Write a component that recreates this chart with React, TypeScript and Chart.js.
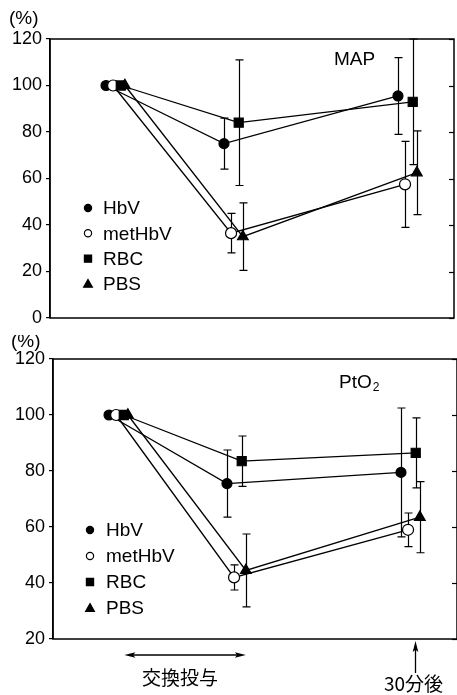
import React, { useEffect, useRef } from 'react';
import { Chart, registerables } from 'chart.js';

Chart.register(...registerables);

// ---------------- data ----------------
const seriesNames = ['HbV', 'metHbV', 'RBC', 'PBS'];
const timePoints = [0, 1, 2.475];

const yTicksMAP = [0, 20, 40, 60, 80, 100, 120];
const yTicksPtO2 = [20, 40, 60, 80, 100, 120];

// MAP (%)
const mapHbV = [100, 75, 95.5];
const mapHbVSD = [0, 11, 16.5];
const mapMetHbV = [100, 36.5, 57.5];
const mapMetHbVSD = [0, 8.5, 18.5];
const mapRBC = [100, 84, 93];
const mapRBCSD = [0, 27, 27];
const mapPBS = [100, 35, 62.5];
const mapPBSSD = [0, 14.5, 18];

// PtO2 (%)
const ptoHbV = [100, 75.5, 79.5];
const ptoHbVSD = [0, 12, 23];
const ptoMetHbV = [100, 42, 59];
const ptoMetHbVSD = [0, 4.5, 6];
const ptoRBC = [100, 83.5, 86.5];
const ptoRBCSD = [0, 9, 12.5];
const ptoPBS = [100, 44.5, 63.5];
const ptoPBSSD = [0, 13, 12.7];

// ---------------- styles ----------------
const FONT = '"Liberation Sans", Arial, Helvetica, sans-serif';
const CJK = '"Noto Sans CJK JP", "Noto Sans CJK SC", sans-serif';
const X_MIN = -0.475;
const X_MAX = 2.95;
// small horizontal jitter per series so markers do not fully overlap
const seriesJitter = [0, 0.06, 0.125, 0.16];
const markerStyles = [
  { pointStyle: 'circle', radius: 5, bg: '#000', legendR: 3.6 },
  { pointStyle: 'circle', radius: 5.5, bg: '#fff', legendR: 3.6 },
  { pointStyle: 'rect', radius: 6.4, bg: '#000', legendR: 3.6 },
  { pointStyle: 'triangle', radius: 6.2, bg: '#000', legendR: 4.4 },
];
const drawOrder = [4, 3, 1, 2];

function buildDatasets(values: number[][], errs: number[][]) {
  return seriesNames.map((name, s) => ({
    label: name,
    data: values[s].map((v, i) => ({ x: timePoints[i] + seriesJitter[s], y: v })),
    errors: errs[s],
    borderColor: '#000',
    borderWidth: 1.3,
    pointStyle: markerStyles[s].pointStyle,
    pointRadius: markerStyles[s].radius,
    pointBackgroundColor: markerStyles[s].bg,
    pointBorderColor: '#000',
    pointBorderWidth: 1.2,
    showLine: true,
    fill: false,
    tension: 0,
    clip: false,
    order: drawOrder[s],
  }));
}

function drawMarker(ctx: CanvasRenderingContext2D, s: number, x: number, y: number, r: number) {
  ctx.save();
  ctx.strokeStyle = '#000';
  ctx.lineWidth = 1.2;
  ctx.fillStyle = markerStyles[s].bg;
  ctx.beginPath();
  const st = markerStyles[s].pointStyle;
  if (st === 'circle') {
    ctx.arc(x, y, r, 0, Math.PI * 2);
  } else if (st === 'rect') {
    ctx.rect(x - r, y - r, 2 * r, 2 * r);
  } else {
    ctx.moveTo(x, y - r);
    ctx.lineTo(x + r, y + r * 0.75);
    ctx.lineTo(x - r, y + r * 0.75);
    ctx.closePath();
  }
  ctx.fill();
  ctx.stroke();
  ctx.restore();
}

function arrowHead(ctx: CanvasRenderingContext2D, x: number, y: number, dx: number, dy: number) {
  const len = 11;
  const hw = 2.8;
  const px = -dy, py = dx;
  ctx.beginPath();
  ctx.moveTo(x, y);
  ctx.lineTo(x - dx * len + px * hw, y - dy * len + py * hw);
  ctx.lineTo(x - dx * len * 0.8, y - dy * len * 0.8);
  ctx.lineTo(x - dx * len - px * hw, y - dy * len - py * hw);
  ctx.closePath();
  ctx.fill();
}

const decorPlugin = {
  id: 'decor',
  beforeDatasetsDraw(chart: any) {
    const ctx = chart.ctx as CanvasRenderingContext2D;
    const yS = chart.scales.y;
    ctx.save();
    ctx.strokeStyle = '#000';
    ctx.lineWidth = 1.2;
    chart.data.datasets.forEach((ds: any, di: number) => {
      const meta = chart.getDatasetMeta(di);
      const errs: number[] = ds.errors || [];
      meta.data.forEach((pt: any, i: number) => {
        const e = errs[i];
        if (!e) return;
        const v = ds.data[i].y;
        const x = Math.round(pt.x) + 0.5;
        const y1 = yS.getPixelForValue(v + e);
        const y2 = yS.getPixelForValue(v - e);
        ctx.beginPath();
        ctx.moveTo(x, y1);
        ctx.lineTo(x, y2);
        ctx.moveTo(x - 4, y1);
        ctx.lineTo(x + 4, y1);
        ctx.moveTo(x - 4, y2);
        ctx.lineTo(x + 4, y2);
        ctx.stroke();
      });
    });
    ctx.restore();
  },
  afterDraw(chart: any, _args: any, opts: any) {
    const ctx = chart.ctx as CanvasRenderingContext2D;
    const a = chart.chartArea;
    const yS = chart.scales.y;
    const xS = chart.scales.x;
    ctx.save();
    // frame
    ctx.strokeStyle = '#000';
    ctx.lineWidth = 1.5;
    ctx.strokeRect(a.left, a.top, a.right - a.left, a.bottom - a.top);
    // inward ticks on right
    ctx.lineWidth = 1.2;
    yS.ticks.forEach((t: any) => {
      const y = Math.round(yS.getPixelForValue(t.value)) + 0.5;
      ctx.beginPath();
      ctx.moveTo(a.right, y);
      ctx.lineTo(a.right - 5, y);
      ctx.stroke();
    });
    ctx.fillStyle = '#000';
    ctx.textBaseline = 'middle';
    // unit
    ctx.font = `19px ${FONT}`;
    ctx.textAlign = 'left';
    ctx.fillText('(%)', opts.unitX, opts.unitY);
    // title
    ctx.font = `19px ${FONT}`;
    ctx.fillText(opts.title, opts.titleX, opts.titleY);
    if (opts.titleSub) {
      const w = ctx.measureText(opts.title).width;
      ctx.font = `12px ${FONT}`;
      ctx.fillText(opts.titleSub, opts.titleX + w + 1, opts.titleY + 5);
    }
    // legend
    ctx.font = `19px ${FONT}`;
    seriesNames.forEach((name, s) => {
      const y = opts.legendY + s * opts.legendDy;
      drawMarker(ctx, s, opts.legendX, y, markerStyles[s].legendR);
      ctx.fillStyle = '#000';
      ctx.fillText(name, opts.legendTextX, y + 1);
    });
    // footer annotations
    if (opts.footer) {
      ctx.strokeStyle = '#000';
      ctx.fillStyle = '#000';
      ctx.lineWidth = 1.3;
      const xa = xS.getPixelForValue(timePoints[0] + 0.13);
      const xb = xS.getPixelForValue(timePoints[1] + 0.16);
      const ya = a.bottom + 16;
      ctx.beginPath();
      ctx.moveTo(xa + 4, ya);
      ctx.lineTo(xb - 4, ya);
      ctx.stroke();
      arrowHead(ctx, xa, ya, -1, 0);
      arrowHead(ctx, xb, ya, 1, 0);
      ctx.font = `19px ${CJK}`;
      ctx.textAlign = 'center';
      ctx.fillText('交換投与', (xa + xb) / 2 - 5, a.bottom + 39);
      const xc = Math.round(xS.getPixelForValue(timePoints[2] + 0.12)) + 0.5;
      ctx.beginPath();
      ctx.moveTo(xc, a.bottom + 34);
      ctx.lineTo(xc, a.bottom + 8);
      ctx.stroke();
      arrowHead(ctx, xc, a.bottom + 2, 0, -1);
      ctx.fillText('30分後', xc - 2, a.bottom + 45);
    }
    ctx.restore();
  },
};

function makeConfig(
  values: number[][],
  errs: number[][],
  yMin: number,
  yMax: number,
  yTicks: number[],
  padding: any,
  decor: any
): any {
  return {
    type: 'line',
    data: { datasets: buildDatasets(values, errs) },
    options: {
      responsive: false,
      animation: false,
      layout: { padding, autoPadding: false },
      plugins: {
        legend: { display: false },
        tooltip: { enabled: false },
        decor,
      },
      scales: {
        x: { type: 'linear', display: false, min: X_MIN, max: X_MAX },
        y: {
          min: yMin,
          max: yMax,
          afterBuildTicks: (s: any) => {
            s.ticks = yTicks.map((v) => ({ value: v }));
          },
          afterFit: (s: any) => {
            s.width = 50;
          },
          ticks: {
            color: '#000',
            padding: 4,
            font: { family: FONT, size: 18 },
          },
          grid: {
            drawOnChartArea: false,
            drawTicks: true,
            tickLength: 4,
            color: '#000',
            lineWidth: 1.2,
          },
          border: { display: true, color: '#000', width: 1.5 },
        },
      },
    },
    plugins: [decorPlugin],
  };
}

function Panel(props: { config: any; width: number; height: number }) {
  const ref = useRef<HTMLCanvasElement>(null);
  useEffect(() => {
    if (!ref.current) return;
    const chart = new Chart(ref.current, props.config);
    return () => chart.destroy();
  }, []);
  return (
    <canvas
      ref={ref}
      width={props.width}
      height={props.height}
      style={{ display: 'block', width: props.width, height: props.height }}
    />
  );
}

export default function App() {
  const topCfg = makeConfig(
    [mapHbV, mapMetHbV, mapRBC, mapPBS],
    [mapHbVSD, mapMetHbVSD, mapRBCSD, mapPBSSD],
    0,
    120,
    yTicksMAP,
    { top: 39, bottom: 17, left: 0, right: 3 },
    {
      unitX: 9, unitY: 19,
      title: 'MAP', titleX: 334, titleY: 60,
      legendX: 88, legendTextX: 103, legendY: 208, legendDy: 25.3,
      footer: false,
    }
  );
  const botCfg = makeConfig(
    [ptoHbV, ptoMetHbV, ptoRBC, ptoPBS],
    [ptoHbVSD, ptoMetHbVSD, ptoRBCSD, ptoPBSSD],
    20,
    120,
    yTicksPtO2,
    { top: 24, bottom: 56, left: 3, right: 0 },
    {
      unitX: 11, unitY: 7,
      title: 'PtO', titleSub: '2', titleX: 339, titleY: 48,
      legendX: 90, legendTextX: 106, legendY: 195, legendDy: 26,
      footer: true,
    }
  );
  return (
    <div
      style={{
        position: 'absolute',
        left: 0,
        top: 0,
        width: 457,
        height: 695,
        overflow: 'hidden',
        background: '#fff',
      }}
    >
      <Panel config={topCfg} width={457} height={335} />
      <Panel config={botCfg} width={457} height={360} />
    </div>
  );
}
